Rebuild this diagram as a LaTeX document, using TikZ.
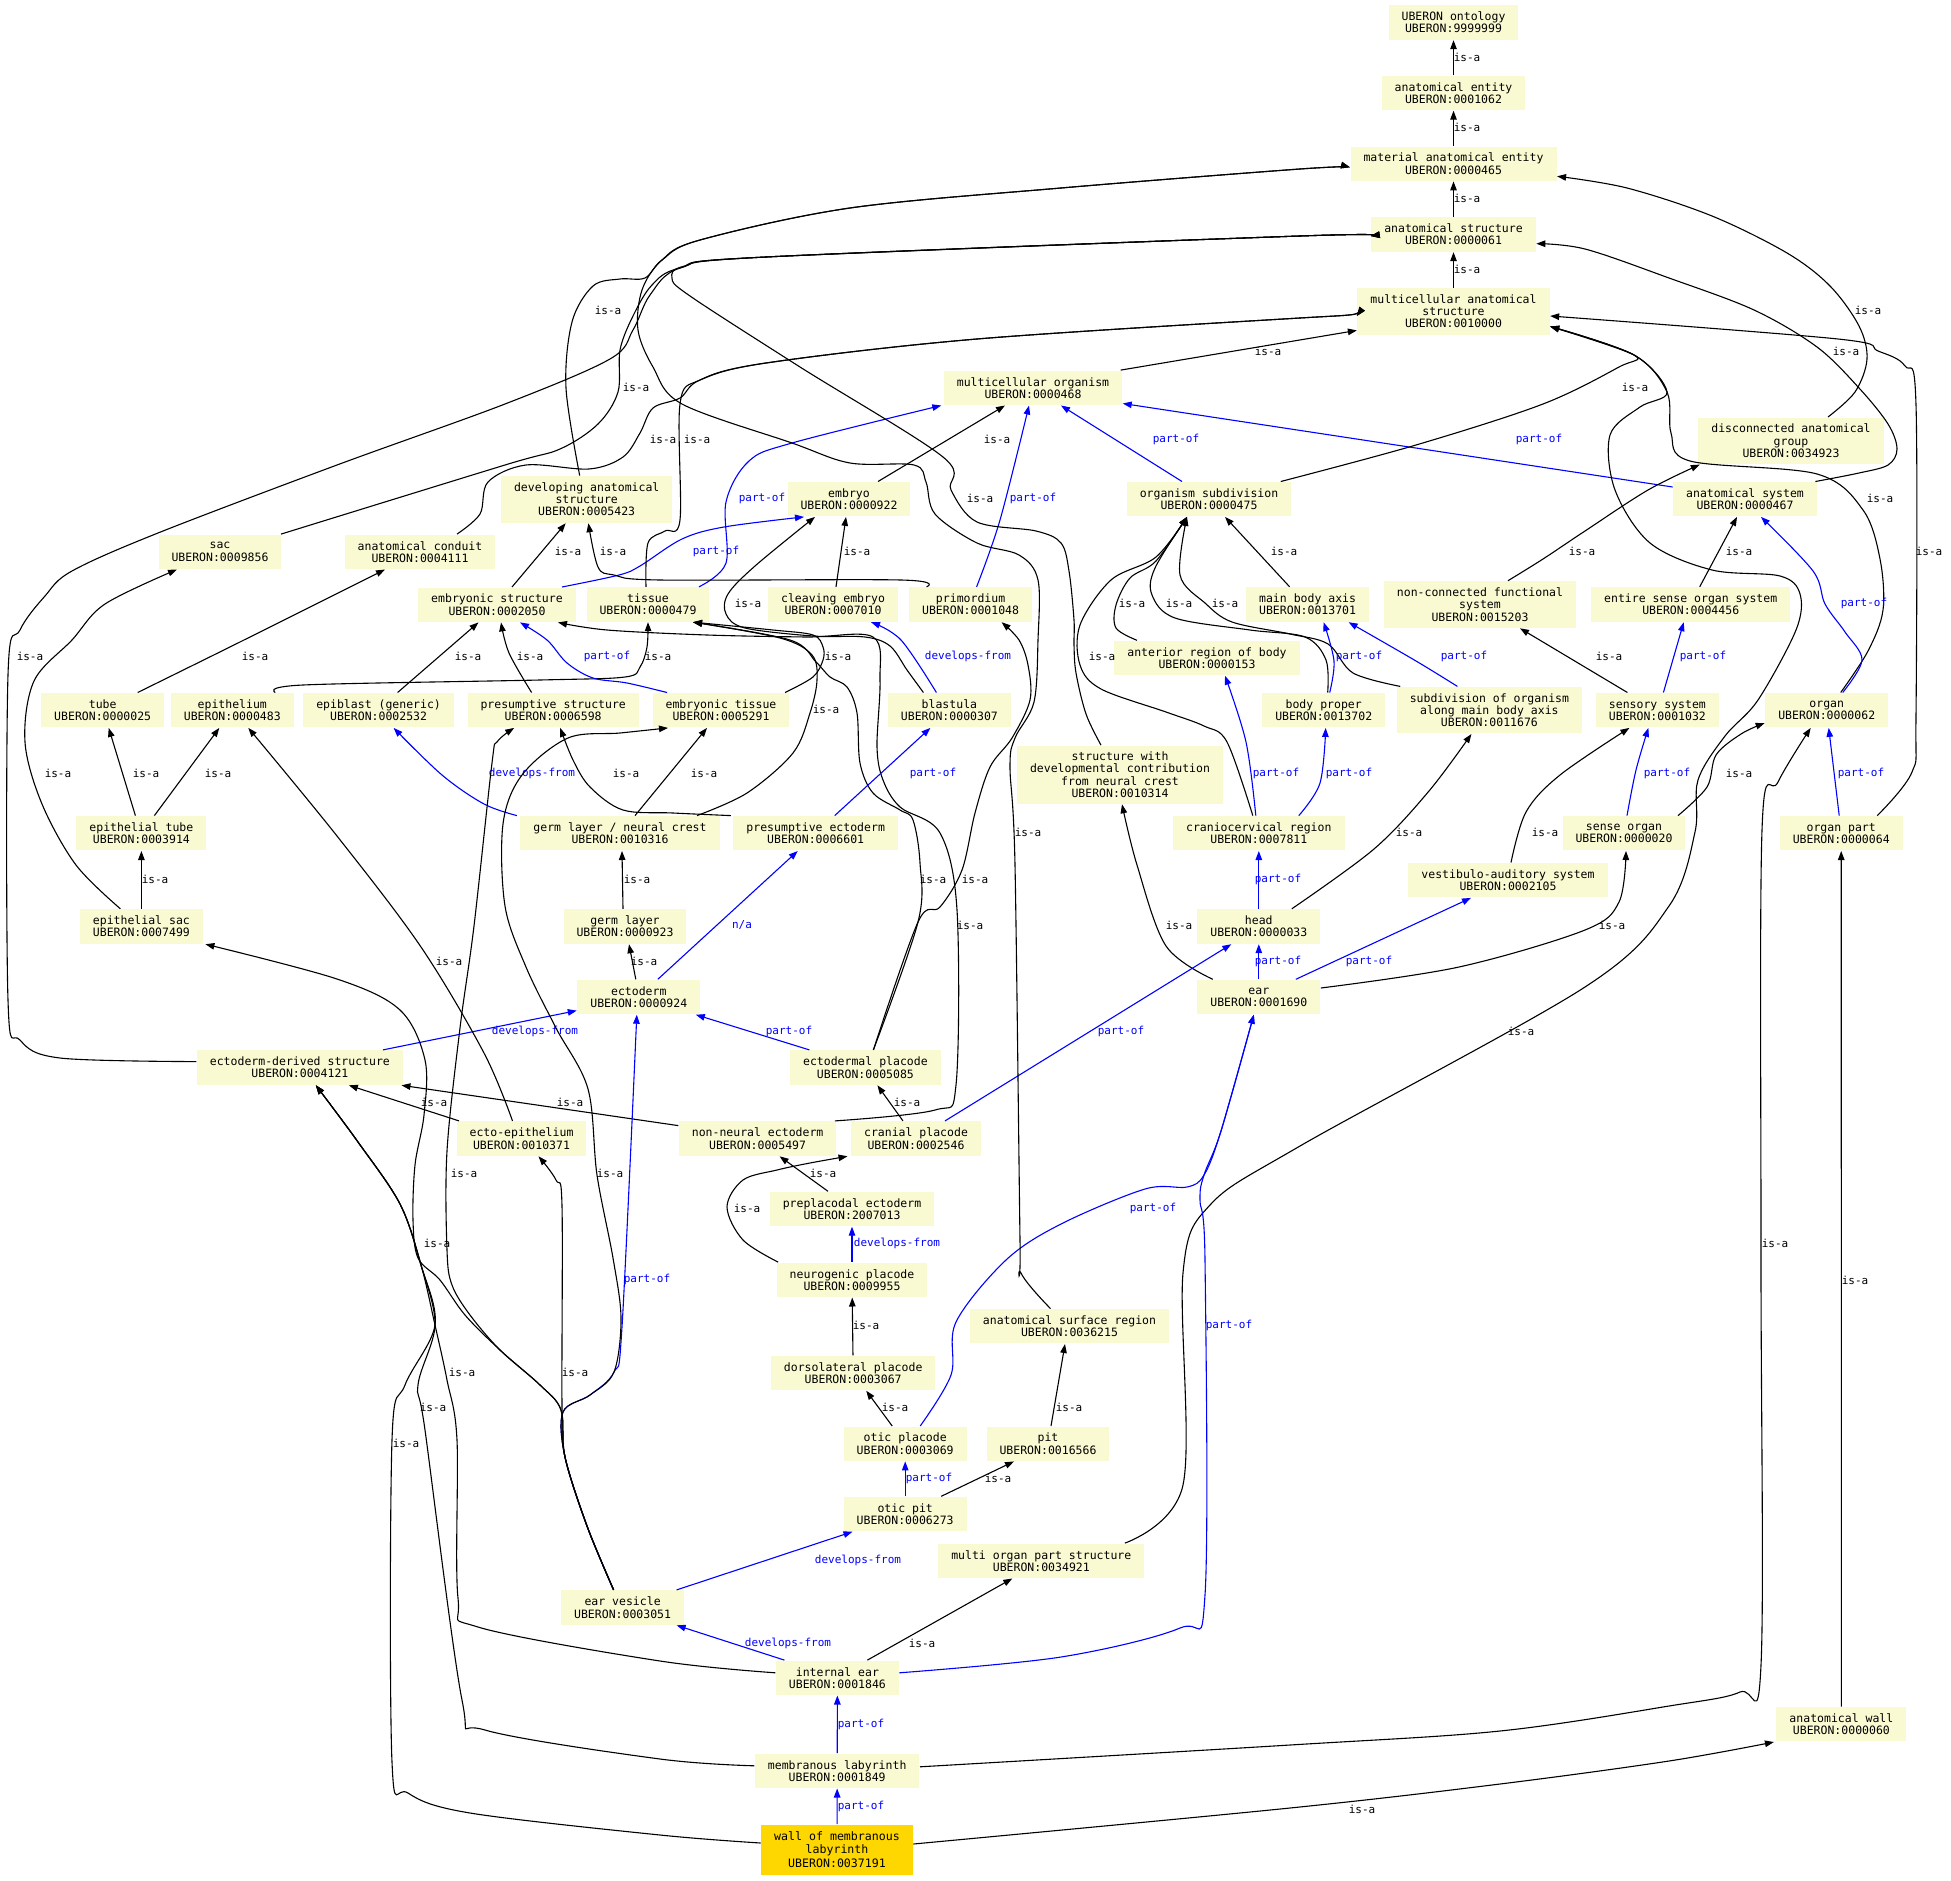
\documentclass[tikz,border=0pt]{standalone}
\usepackage{fontspec}
\setmonofont{DejaVu Sans Mono}
\usepackage{tikz}
\usepackage{xcolor}
\usetikzlibrary{arrows.meta}
\definecolor{TermBackground}{HTML}{FAFAD2}
\definecolor{SeedBackground}{HTML}{FFD700}
\newcommand{\TermFont}{\ttfamily\fontsize{11.5}{12.2}\selectfont}
\newcommand{\SeedFont}{\ttfamily\fontsize{11.6}{13.7}\selectfont}
\newcommand{\EdgeFont}{\ttfamily\fontsize{11}{12}\selectfont}
\tikzstyle{TermNode} =[fill=TermBackground,inner xsep=13pt,inner ysep=4pt,minimum height=34.3pt,align=center,font=\TermFont]
\tikzstyle{TallTermNode} =[TermNode,minimum height=46.5pt]
\tikzstyle{SeedTermNode} =[TermNode,fill=SeedBackground,minimum height=50pt,font=\SeedFont]
\tikzstyle{IsAEdge} =[->,black]
\tikzstyle{RelationEdge} =[->,blue]
\tikzstyle{IsALabel} =[font=\EdgeFont,text=black,inner sep=0pt]
\tikzstyle{RelationLabel} =[font=\EdgeFont,text=blue,inner sep=0pt]
\tikzstyle{Route} =[smooth,tension=0.55]

\begin{document}
\begin{tikzpicture}[x=1pt,y=-1pt,line width=1.1pt,>={Triangle[length=9pt,width=6.5pt]}]
    \fill[white] (0,0) rectangle (1951,1881);
    \useasboundingbox (0,0) rectangle (1951,1881);

    \node[TermNode] (Ont) at (1453.5,22.5) {UBERON ontology\\UBERON:9999999};
    \node[TermNode] (AnatEntity) at (1453.5,93) {anatomical entity\\UBERON:0001062};
    \node[TermNode] (MatAnat) at (1453.5,163.7) {material anatomical entity\\UBERON:0000465};
    \node[TermNode] (AnatStruct) at (1453.5,234.5) {anatomical structure\\UBERON:0000061};
    \node[TallTermNode] (MultiAnat) at (1453.5,311.4) {multicellular anatomical\\structure\\UBERON:0010000};
    \node[TermNode] (MultiOrg) at (1033,387.8) {multicellular organism\\UBERON:0000468};
    \node[TallTermNode] (DisconnGroup) at (1791,440.8) {disconnected anatomical\\group\\UBERON:0034923};
    \node[TermNode] (AnatSystem) at (1745,499.2) {anatomical system\\UBERON:0000467};
    \node[TermNode] (Embryo) at (849,499.2) {embryo\\UBERON:0000922};
    \node[TermNode] (OrgSubdiv) at (1209,499.2) {organism subdivision\\UBERON:0000475};
    \node[TallTermNode] (DevAnat) at (586.7,499.4) {developing anatomical\\structure\\UBERON:0005423};
    \node[TermNode] (Sac) at (220,551.8) {sac\\UBERON:0009856};
    \node[TermNode] (AnatConduit) at (420,551.8) {anatomical conduit\\UBERON:0004111};
    \node[TermNode] (EmbStruct) at (497,604.7) {embryonic structure\\UBERON:0002050};
    \node[TermNode] (Tissue) at (648,604.5) {tissue\\UBERON:0000479};
    \node[TermNode] (CleavingEmbryo) at (833,604.5) {cleaving embryo\\UBERON:0007010};
    \node[TermNode] (Primordium) at (970.6,604.5) {primordium\\UBERON:0001048};
    \node[TermNode] (MainBodyAxis) at (1307.6,604.5) {main body axis\\UBERON:0013701};
    \node[TallTermNode] (NonConnFunc) at (1480,604.5) {non-connected functional\\system\\UBERON:0015203};
    \node[TermNode] (EntireSenseOrg) at (1690.7,604.5) {entire sense organ system\\UBERON:0004456};
    \node[TermNode] (AntRegion) at (1207,658) {anterior region of body\\UBERON:0000153};
    \node[TermNode] (Tube) at (102.7,710.2) {tube\\UBERON:0000025};
    \node[TermNode] (Epithelium) at (232.3,710.2) {epithelium\\UBERON:0000483};
    \node[TermNode] (Epiblast) at (378.6,710.2) {epiblast (generic)\\UBERON:0002532};
    \node[TermNode] (PresStruct) at (553.2,710.2) {presumptive structure\\UBERON:0006598};
    \node[TermNode] (EmbTissue) at (721,710.2) {embryonic tissue\\UBERON:0005291};
    \node[TermNode] (Blastula) at (949.4,710.2) {blastula\\UBERON:0000307};
    \node[TermNode] (BodyProper) at (1323.7,710.2) {body proper\\UBERON:0013702};
    \node[TallTermNode] (SubdivAxis) at (1489.4,710.2) {subdivision of organism\\along main body axis\\UBERON:0011676};
    \node[TermNode] (SensorySystem) at (1657.4,710.2) {sensory system\\UBERON:0001032};
    \node[TermNode] (Organ) at (1826.7,710.2) {organ\\UBERON:0000062};
    \node[TermNode,minimum height=58pt] (NeuralCrestStruct) at (1120,774.7) {structure with\\developmental contribution\\from neural crest\\UBERON:0010314};
    \node[TermNode] (EpiTube) at (141.4,833.3) {epithelial tube\\UBERON:0003914};
    \node[TermNode] (GermLayerNC) at (620,833.3) {germ layer / neural crest\\UBERON:0010316};
    \node[TermNode] (PresEcto) at (815.7,833.3) {presumptive ectoderm\\UBERON:0006601};
    \node[TermNode] (CranioRegion) at (1258.8,833.3) {craniocervical region\\UBERON:0007811};
    \node[TermNode] (SenseOrgan) at (1624,833.3) {sense organ\\UBERON:0000020};
    \node[TermNode] (OrganPart) at (1841.2,833.3) {organ part\\UBERON:0000064};
    \node[TermNode] (VestAud) at (1508,880.2) {vestibulo-auditory system\\UBERON:0002105};
    \node[TermNode] (EpiSac) at (141.4,926.5) {epithelial sac\\UBERON:0007499};
    \node[TermNode] (GermLayer) at (625,926.5) {germ layer\\UBERON:0000923};
    \node[TermNode] (Head) at (1258.8,926.5) {head\\UBERON:0000033};
    \node[TermNode] (Ectoderm) at (638.8,997) {ectoderm\\UBERON:0000924};
    \node[TermNode] (Ear) at (1258.8,997) {ear\\UBERON:0001690};
    \node[TermNode] (EctoDerived) at (299.9,1067.6) {ectoderm-derived structure\\UBERON:0004121};
    \node[TermNode] (EctoPlacode) at (865.4,1067.6) {ectodermal placode\\UBERON:0005085};
    \node[TermNode] (EctoEpi) at (521.5,1138.6) {ecto-epithelium\\UBERON:0010371};
    \node[TermNode] (NonNeural) at (757.6,1138.6) {non-neural ectoderm\\UBERON:0005497};
    \node[TermNode] (CranialPlacode) at (916,1138.6) {cranial placode\\UBERON:0002546};
    \node[TermNode] (Preplacodal) at (852,1209) {preplacodal ectoderm\\UBERON:2007013};
    \node[TermNode] (Neurogenic) at (852,1279.8) {neurogenic placode\\UBERON:0009955};
    \node[TermNode] (SurfaceRegion) at (1069.5,1326.3) {anatomical surface region\\UBERON:0036215};
    \node[TermNode] (Dorsolateral) at (853.2,1373) {dorsolateral placode\\UBERON:0003067};
    \node[TermNode] (OticPlacode) at (905.2,1443.7) {otic placode\\UBERON:0003069};
    \node[TermNode] (Pit) at (1048,1443.7) {pit\\UBERON:0016566};
    \node[TermNode] (OticPit) at (905.2,1514) {otic pit\\UBERON:0006273};
    \node[TermNode] (MultiOrganPart) at (1041.3,1560.8) {multi organ part structure\\UBERON:0034921};
    \node[TermNode] (EarVesicle) at (622.6,1607.6) {ear vesicle\\UBERON:0003051};
    \node[TermNode] (InternalEar) at (837.4,1677.8) {internal ear\\UBERON:0001846};
    \node[TermNode] (MembLab) at (837.2,1770.8) {membranous labyrinth\\UBERON:0001849};
    \node[TermNode] (AnatWall) at (1841.4,1724.3) {anatomical wall\\UBERON:0000060};
    \node[SeedTermNode] (WallMembLab) at (837,1849.6) {wall of membranous\\labyrinth\\UBERON:0037191};

    \draw[IsAEdge] (AnatEntity) -- (Ont) node[IsALabel,at={(1467,57)}] {is-a};
    \draw[IsAEdge] (MatAnat) -- (AnatEntity) node[IsALabel,at={(1467,127)}] {is-a};
    \draw[IsAEdge] (AnatStruct) -- (MatAnat) node[IsALabel,at={(1467,198)}] {is-a};
    \draw[IsAEdge] (MultiAnat) -- (AnatStruct) node[IsALabel,at={(1467,269)}] {is-a};
    \draw[IsAEdge] ([xshift=-2pt]MultiOrg.north east) -- ([yshift=-19pt]MultiAnat.west) node[IsALabel,at={(1268,351)}] {is-a};
    \draw[IsAEdge] plot[Route] coordinates {([xshift=37pt]DisconnGroup.north) (1855,392) (1867,359) (1859,326) (1830,286) (1787,253) (1712,216) (1627,188) ([yshift=-12.6pt]MatAnat.east)} node[IsALabel,at={(1868,310)}] {is-a};
    \draw[IsAEdge] plot[Route] coordinates {([xshift=-2pt]AnatSystem.north east) (1859,473) (1888,465) (1897,449) (1888,424) (1859,388) (1817,347) (1754,310) (1669,278) (1585,249) ([yshift=-9.2pt]AnatStruct.east)} node[IsALabel,at={(1846,351)}] {is-a};
    \draw[RelationEdge] ([yshift=12.2pt]AnatSystem.west) -- ([yshift=2pt]MultiOrg.south east) node[RelationLabel,at={(1539,439)}] {part-of};
    \draw[IsAEdge] plot[Route] coordinates {([xshift=-26pt]OrganPart.north east) (1912,772) (1916,715) (1916,405) (1905,366) (1878,351) (1838,339) ([yshift=-4.6pt]MultiAnat.east)} node[IsALabel,at={(1929,551)}] {is-a};
    \draw[IsAEdge] plot[Route] coordinates {([xshift=14pt]Organ.north) (1868,651) (1883,610) (1880,559) (1863,510) (1817,474) (1690,461) (1671,433) (1667,392) (1634,355) ([yshift=-15.1pt]MultiAnat.east)} node[IsALabel,at={(1880,498)}] {is-a};
    \draw[IsAEdge] plot[Route] coordinates {([xshift=-20pt]MultiOrganPart.north east) (1183,1485) (1183,1273) (1210,1205) (1300,1146) (1585,987) (1669,906) (1695,832) (1698,780) (1725,736) (1758,700) (1796,630) (1800,594) (1780,576) (1712,570) (1650,543) (1615,490) (1610,435) (1640,407) (1667,392) (1634,355) ([yshift=-15.1pt]MultiAnat.east)} node[IsALabel,at={(1521,1031)}] {is-a};
    \draw[IsAEdge] plot[Route] coordinates {([xshift=-11pt]OrgSubdiv.north east) (1416,445) (1543,404) (1619,367) (1634,355) ([yshift=-15.1pt]MultiAnat.east)} node[IsALabel,at={(1635,387)}] {is-a};
    \draw[IsAEdge] plot[Route] coordinates {([xshift=28pt]NonConnFunc.north) (1543,559) (1585,531) (1648,490) ([xshift=2pt]DisconnGroup.south west)} node[IsALabel,at={(1582,551)}] {is-a};
    \draw[IsAEdge] ([xshift=9pt]EntireSenseOrg.north) -- ([xshift=-8pt]AnatSystem.south) node[IsALabel,at={(1739,551)}] {is-a};
    \draw[RelationEdge] plot[Route] coordinates {([xshift=16pt]Organ.north) (1862,660) (1845,632) (1825,604) (1813,571) ([xshift=16pt]AnatSystem.south)} node[RelationLabel,at={(1864,603)}] {part-of};
    \draw[IsAEdge] ([xshift=-30pt]SensorySystem.north) -- ([xshift=40pt]NonConnFunc.south) node[IsALabel,at={(1609,656)}] {is-a};
    \draw[RelationEdge] ([xshift=6pt]SensorySystem.north) -- ([xshift=-7pt]EntireSenseOrg.south) node[RelationLabel,at={(1703,656)}] {part-of};
    \draw[RelationEdge] plot[Route] coordinates {([xshift=3pt]SenseOrgan.north) (1636,770) ([xshift=-9pt]SensorySystem.south)} node[RelationLabel,at={(1667,773)}] {part-of};
    \draw[IsAEdge] plot[Route] coordinates {([xshift=-8pt]SenseOrgan.north east) (1707,787) (1716,755) (1741,734) ([yshift=-12.8pt]Organ.west)} node[IsALabel,at={(1739,773)}] {is-a};
    \draw[RelationEdge] ([xshift=-2pt]OrganPart.north) -- ([xshift=2pt]Organ.south) node[RelationLabel,at={(1861,773)}] {part-of};
    \draw[IsAEdge] plot[Route] coordinates {([xshift=3pt]VestAud.north) (1526,812) (1560,775) ([xshift=-28pt]SensorySystem.south)} node[IsALabel,at={(1545,832)}] {is-a};
    \draw[RelationEdge] ([xshift=37pt]Ear.north) -- ([xshift=-37pt]VestAud.south) node[RelationLabel,at={(1369,961)}] {part-of};
    \draw[IsAEdge] plot[Route] coordinates {([yshift=9pt]Ear.east) (1459,967) (1585,930) (1619,902) ([xshift=2pt]SenseOrgan.south)} node[IsALabel,at={(1612,925)}] {is-a};
    \draw[RelationEdge] (Ear) -- (Head) node[RelationLabel,at={(1278,961)}] {part-of};
    \draw[RelationEdge] (Head) -- (CranioRegion) node[RelationLabel,at={(1278,879)}] {part-of};
    \draw[IsAEdge] plot[Route] coordinates {([xshift=33pt]Head.north) (1374,849) (1429,791) ([xshift=-18pt]SubdivAxis.south)} node[IsALabel,at={(1409,832)}] {is-a};
    \draw[IsAEdge] plot[Route] coordinates {([xshift=-46pt]Ear.north) (1166,946) (1137,865) ([xshift=2pt]NeuralCrestStruct.south)} node[IsALabel,at={(1179,925)}] {is-a};
    \draw[RelationEdge] plot[Route] coordinates {([xshift=-3pt]CranioRegion.north) (1246,742) ([xshift=18pt]AntRegion.south)} node[RelationLabel,at={(1276,773)}] {part-of};
    \draw[RelationEdge] plot[Route] coordinates {([xshift=40pt]CranioRegion.north) (1320,783) ([xshift=2pt]BodyProper.south)} node[RelationLabel,at={(1349,773)}] {part-of};
    \draw[IsAEdge] plot[Route] coordinates {([xshift=-6pt]CranioRegion.north) (1227,742) (1204,726) (1166,712) (1101,689) (1080,665) (1080,625) (1111,580) (1156,557) ([xshift=-22pt]OrgSubdiv.south)} node[IsALabel,at={(1102,656)}] {is-a};
    \draw[IsAEdge] plot[Route] coordinates {([xshift=-70pt]AntRegion.north) (1116,628) (1116,605) (1130,578) (1156,561) ([xshift=-22pt]OrgSubdiv.south)} node[IsALabel,at={(1132,603)}] {is-a};
    \draw[IsAEdge] plot[Route] coordinates {([xshift=4pt]BodyProper.north) (1326,660) (1305,637) (1250,630) (1175,618) (1152,595) (1155,568) ([xshift=-22pt]OrgSubdiv.south)} node[IsALabel,at={(1179,603)}] {is-a};
    \draw[IsAEdge] plot[Route] coordinates {([xshift=4pt]SubdivAxis.north west) (1353,673) (1328,644) (1290,634) (1232,622) (1205,603) (1180,575) ([xshift=-22pt]OrgSubdiv.south)} node[IsALabel,at={(1225,603)}] {is-a};
    \draw[IsAEdge] ([xshift=-18pt]MainBodyAxis.north) -- ([xshift=16pt]OrgSubdiv.south) node[IsALabel,at={(1284,551)}] {is-a};
    \draw[RelationEdge] plot[Route] coordinates {([xshift=6pt]BodyProper.north) (1334,661) ([xshift=16pt]MainBodyAxis.south)} node[RelationLabel,at={(1359,656)}] {part-of};
    \draw[RelationEdge] plot[Route] coordinates {([xshift=-32pt]SubdivAxis.north) (1416,661) ([xshift=41pt]MainBodyAxis.south)} node[RelationLabel,at={(1464,656)}] {part-of};
    \draw[RelationEdge] ([xshift=-27pt]OrgSubdiv.north) -- ([xshift=28pt]MultiOrg.south) node[RelationLabel,at={(1176,439)}] {part-of};
    \draw[IsAEdge] ([xshift=29pt]Embryo.north) -- ([xshift=-28pt]MultiOrg.south) node[IsALabel,at={(997,439)}] {is-a};
    \draw[RelationEdge] plot[Route] coordinates {([xshift=6pt]Primordium.north) (1000,520) ([xshift=-4pt]MultiOrg.south)} node[RelationLabel,at={(1033,498)}] {part-of};
    \draw[RelationEdge] plot[Route] coordinates {([xshift=51pt]Tissue.north) (726,563) (726,502) (749,461) (792,443) ([xshift=-2pt]MultiOrg.south west)} node[RelationLabel,at={(762,498)}] {part-of};
    \draw[RelationEdge] plot[Route] coordinates {([xshift=65pt]EmbStruct.north) (619,575) (640,566) (682,539) (724,527) ([xshift=-45pt]Embryo.south)} node[RelationLabel,at={(716,551)}] {part-of};
    \draw[IsAEdge] ([xshift=3pt]CleavingEmbryo.north) -- ([xshift=-3pt]Embryo.south) node[IsALabel,at={(857,551)}] {is-a};
    \draw[RelationEdge] plot[Route] coordinates {([xshift=-13pt]Blastula.north) (901,640) ([xshift=38pt]CleavingEmbryo.south)} node[RelationLabel,at={(968,656)}] {develops-from};
    \draw[IsAEdge] plot[Route] coordinates {([xshift=-26pt]Blastula.north) (907,670) (890,646) (865,637) (813,636) (745,628) (726,614) (728,594) (755,566) ([xshift=-34pt]Embryo.south)} node[IsALabel,at={(748,603)}] {is-a};
    \draw[IsAEdge] plot[Route] coordinates {([xshift=64pt]EmbTissue.north) (813,677) (823,660) (823,647) (813,635) (773,630) ([xshift=45pt]Tissue.south)} node[IsALabel,at={(838,656)}] {is-a};
    \draw[IsAEdge] plot[Route] coordinates {([xshift=77pt]GermLayerNC.north) (747,793) (793,753) (810,713) (817,680) (812,655) (780,638) ([xshift=45pt]Tissue.south)} node[IsALabel,at={(826,709)}] {is-a};
    \draw[IsAEdge] plot[Route] coordinates {([xshift=8pt]EctoPlacode.north) (918,922) (920,863) (913,820) (900,810) (873,793) (860,763) (857,713) (847,687) (830,677) (816,662) (790,640) ([xshift=45pt]Tissue.south)} node[IsALabel,at={(933,879)}] {is-a};
    \draw[IsAEdge] plot[Route] coordinates {([xshift=8pt]EctoPlacode.north) (918,922) (940,907) (962,870) (975,813) (990,767) (1012,738) (1030,700) (1028,665) (1019,640) ([xshift=31pt]Primordium.south)} node[IsALabel,at={(975,879)}] {is-a};
    \draw[IsAEdge] plot[Route] coordinates {([xshift=-2pt]NonNeural.north east) (935,1110) (956,1085) (957,910) (940,833) (900,807) (883,780) (877,747) (880,680) (873,637) (807,637) (707,635) (607,630) ([xshift=61pt]EmbStruct.south)} node[IsALabel,at={(970,925)}] {is-a};
    \draw[RelationEdge] ([xshift=-56pt]EctoPlacode.north) -- ([xshift=-5pt]Ectoderm.south east) node[RelationLabel,at={(789,1031)}] {part-of};
    \draw[IsAEdge] ([xshift=-13pt]CranialPlacode.north) -- ([xshift=12pt]EctoPlacode.south) node[IsALabel,at={(907,1102)}] {is-a};
    \draw[RelationEdge] ([xshift=29pt]CranialPlacode.north) -- ([xshift=-27.5pt]Head.south) node[RelationLabel,at={(1121,1031)}] {part-of};
    \draw[IsAEdge] ([xshift=-24pt]Preplacodal.north) -- ([xshift=22pt]NonNeural.south) node[IsALabel,at={(823,1173)}] {is-a};
    \draw[IsAEdge] plot[Route] coordinates {([xshift=2pt]Neurogenic.north west) (743,1240) (727,1207) (743,1180) (777,1170) (810,1163) ([xshift=-3pt]CranialPlacode.south west)} node[IsALabel,at={(747,1208)}] {is-a};
    \draw[RelationEdge] (Neurogenic) -- (Preplacodal) node[RelationLabel,at={(897,1243)}] {develops-from};
    \draw[IsAEdge] (Dorsolateral) -- (Neurogenic) node[IsALabel,at={(866,1325)}] {is-a};
    \draw[IsAEdge] ([xshift=-13pt]OticPlacode.north) -- ([xshift=13pt]Dorsolateral.south) node[IsALabel,at={(895,1407)}] {is-a};
    \draw[RelationEdge] plot[Route] coordinates {([xshift=15pt]OticPlacode.north) (951,1375) (956,1322) (1006,1260) (1061,1224) (1145,1189) (1187,1187) (1204,1175) (1221,1131) ([xshift=-5pt]Ear.south)} node[RelationLabel,at={(1153,1208)}] {part-of};
    \draw[RelationEdge] plot[Route] coordinates {([yshift=5pt]InternalEar.east) (1061,1657) (1180,1628) (1205,1595) (1205,1260) (1200,1200) (1204,1175) (1221,1131) ([xshift=-5pt]Ear.south)} node[RelationLabel,at={(1229,1325)}] {part-of};
    \draw[RelationEdge] (OticPit) -- (OticPlacode) node[RelationLabel,at={(929,1478)}] {part-of};
    \draw[IsAEdge] ([xshift=36pt]OticPit.north) -- ([xshift=-34pt]Pit.south) node[IsALabel,at={(998,1478)}] {is-a};
    \draw[IsAEdge] ([xshift=3pt]Pit.north) -- ([xshift=-4.5pt]SurfaceRegion.south) node[IsALabel,at={(1069,1407)}] {is-a};
    \draw[IsAEdge] plot[Route] coordinates {([xshift=-19pt]SurfaceRegion.north) (1021,1273) (1020,1240) (1015,865) (1010,767) (1015,738) (1034,702) (1038,640) (1038,580) (1019,555) (977,543) (935,514) (926,482) (914,465) (850,463) (792,443) (682,404) (653,367) (638,330) (642,290) (662,260) (700,240) (850,208) (1061,188) (1300,169) ([yshift=-3.6pt]MatAnat.west)} node[IsALabel,at={(1028,832)}] {is-a};
    \draw[IsAEdge] plot[Route] coordinates {([xshift=-19pt]NeuralCrestStruct.north) (1086,714) (1076,673) (1074,645) (1074,620) (1069,571) (1061,543) (1036,531) (977,522) (951,490) (943,457) (800,367) (690,296) (672,278) (685,266) (766,257) (1300,236) ([yshift=-1.5pt]AnatStruct.west)} node[IsALabel,at={(980,498)}] {is-a};
    \draw[IsAEdge] plot[Route] coordinates {([xshift=-7pt]DevAnat.north) (566,388) (572,322) (593,286) (620,279) (645,278) (662,260) (700,240) (850,208) (1061,188) (1300,169) ([yshift=-3.6pt]MatAnat.west)} node[IsALabel,at={(608,310)}] {is-a};
    \draw[IsAEdge] plot[Route] coordinates {([yshift=6pt]EctoDerived.west) (60,1058) (20,1040) (8,1000) (8,675) (20,630) (45,596) (72,571) (158,533) (337,465) (505,404) (610,359) (633,330) (650,295) (680,268) (766,257) (1300,236) ([yshift=-1.5pt]AnatStruct.west)} node[IsALabel,at={(30,656)}] {is-a};
    \draw[IsAEdge] plot[Route] coordinates {([xshift=-1pt]Sac.north east) (505,465) (560,449) (598,424) (618,392) (620,350) (633,316) (652,285) (680,268) (766,257) (1300,236) ([yshift=-1.5pt]AnatStruct.west)} node[IsALabel,at={(636,387)}] {is-a};
    \draw[IsAEdge] plot[Route] coordinates {([xshift=37pt]AnatConduit.north) (480,514) (488,482) (526,465) (589,469) (623,457) (640,433) (653,408) (680,398) (700,380) (766,363) (977,339) (1300,318) ([yshift=-4.6pt]MultiAnat.west)} node[IsALabel,at={(663,439)}] {is-a};
    \draw[IsAEdge] plot[Route] coordinates {([xshift=-2pt]Tissue.north) (648,543) (665,531) (680,520) (680,404) (700,380) (766,363) (977,339) (1300,318) ([yshift=-4.6pt]MultiAnat.west)} node[IsALabel,at={(697,439)}] {is-a};
    \draw[IsAEdge] plot[Route] coordinates {([xshift=-44pt]Primordium.north) (901,580) (660,580) (614,575) (598,567) ([xshift=1.7pt]DevAnat.south)} node[IsALabel,at={(613,551)}] {is-a};
    \draw[IsAEdge] ([xshift=15pt]EmbStruct.north) -- ([xshift=-21pt]DevAnat.south) node[IsALabel,at={(568,551)}] {is-a};
    \draw[IsAEdge] plot[Route] coordinates {([xshift=35pt]Tube.north) (244,640) ([xshift=-35pt]AnatConduit.south)} node[IsALabel,at={(255,656)}] {is-a};
    \draw[IsAEdge] plot[Route] coordinates {([xshift=-21pt]EpiSac.north) (76,865) (42,804) (25,742) (34,681) (72,640) (105,604) ([xshift=-43pt]Sac.south)} node[IsALabel,at={(58,773)}] {is-a};
    \draw[IsAEdge] ([xshift=-6pt]EpiTube.north) -- ([xshift=6pt]Tube.south) node[IsALabel,at={(146,773)}] {is-a};
    \draw[IsAEdge] ([xshift=13pt]EpiTube.north) -- ([xshift=-13pt]Epithelium.south) node[IsALabel,at={(218,773)}] {is-a};
    \draw[IsAEdge] (EpiSac) -- (EpiTube) node[IsALabel,at={(155,879)}] {is-a};
    \draw[IsAEdge] plot[Route] coordinates {([xshift=43pt]Epithelium.north) (303,685) (540,680) (625,677) (640,667) (647,647) (Tissue.south)} node[IsALabel,at={(658,656)}] {is-a};
    \draw[IsAEdge] ([xshift=19pt]Epiblast.north) -- ([xshift=-18.5pt]EmbStruct.south) node[IsALabel,at={(468,656)}] {is-a};
    \draw[IsAEdge] plot[Route] coordinates {([xshift=-21.6pt]PresStruct.north) (509,653) ([xshift=4pt]EmbStruct.south)} node[IsALabel,at={(530,656)}] {is-a};
    \draw[RelationEdge] plot[Route] coordinates {([xshift=-54pt]EmbTissue.north) (627,683) (593,678) (567,663) (547,640) ([xshift=23pt]EmbStruct.south)} node[RelationLabel,at={(607,656)}] {part-of};
    \draw[RelationEdge] plot[Route] coordinates {([xshift=-3pt]GermLayerNC.north west) (484,804) (442,775) ([xshift=15pt]Epiblast.south)} node[RelationLabel,at={(532,773)}] {develops-from};
    \draw[IsAEdge] ([xshift=15pt]GermLayerNC.north) -- ([xshift=-14pt]EmbTissue.south) node[IsALabel,at={(704,773)}] {is-a};
    \draw[IsAEdge] plot[Route] coordinates {([xshift=-2pt]PresEcto.north west) (673,813) (623,810) (590,787) (573,760) ([xshift=7pt]PresStruct.south)} node[IsALabel,at={(626,773)}] {is-a};
    \draw[RelationEdge] ([xshift=19pt]PresEcto.north) -- ([xshift=-19pt]Blastula.south) node[RelationLabel,at={(933,773)}] {part-of};
    \draw[IsAEdge] ([xshift=-2pt]GermLayer.north) -- ([xshift=2pt]GermLayerNC.south) node[IsALabel,at={(637,879)}] {is-a};
    \draw[IsAEdge] ([xshift=-3pt]Ectoderm.north) -- ([xshift=4pt]GermLayer.south) node[IsALabel,at={(644,961)}] {is-a};
    \draw[RelationEdge] ([xshift=19pt]Ectoderm.north) -- ([xshift=-18pt]PresEcto.south) node[RelationLabel,at={(742,925)}] {n/a};
    \draw[RelationEdge] ([xshift=83pt]EctoDerived.north) -- ([yshift=-13.6pt]Ectoderm.west) node[RelationLabel,at={(535,1031)}] {develops-from};
    \draw[IsAEdge] ([xshift=3pt]EctoEpi.north west) -- ([xshift=49pt]EctoDerived.south) node[IsALabel,at={(434,1102)}] {is-a};
    \draw[IsAEdge] plot[Route] coordinates {([xshift=-9pt]EctoEpi.north) (484,1053) (421,947) (337,836) ([xshift=16pt]Epithelium.south)} node[IsALabel,at={(449,961)}] {is-a};
    \draw[IsAEdge] ([yshift=13pt]NonNeural.west) -- ([xshift=-2pt]EctoDerived.south east) node[IsALabel,at={(570,1102)}] {is-a};
    \draw[IsAEdge] plot[Route] coordinates {([xshift=-9pt]EarVesicle.north) (587,1526) (565,1457) (562,1405) (562,1206) (556,1180) ([xshift=17pt]EctoEpi.south)} node[IsALabel,at={(575,1372)}] {is-a};
    \draw[RelationEdge] plot[Route] coordinates {([xshift=-9pt]EarVesicle.north) (587,1526) (565,1457) (563,1412) (590,1395) (614,1372) (622,1327) ([xshift=-2pt]Ectoderm.south)} node[RelationLabel,at={(647,1279)}] {part-of};
    \draw[IsAEdge] plot[Route] coordinates {([xshift=-9pt]EarVesicle.north) (587,1526) (565,1457) (563,1412) (590,1395) (614,1372) (621,1318) (613,1258) (597,1175) (588,1089) (556,1028) (526,967) (505,906) (503,824) (522,775) (568,738) (620,733) ([xshift=-53pt]EmbTissue.south)} node[IsALabel,at={(610,1173)}] {is-a};
    \draw[IsAEdge] plot[Route] coordinates {([xshift=-9pt]EarVesicle.north) (587,1526) (565,1457) (561,1410) (540,1385) (500,1350) (470,1315) (452,1285) (447,1250) (447,1151) (460,1028) (474,926) (492,763) (497,742) ([xshift=-39pt]PresStruct.south)} node[IsALabel,at={(464,1173)}] {is-a};
    \draw[IsAEdge] plot[Route] coordinates {([xshift=-9pt]EarVesicle.north) (587,1526) (565,1457) (561,1410) (540,1385) (500,1350) (465,1315) (440,1280) (418,1258) (413,1220) (415,1165) (424,1115) (425,1060) (400,1010) (337,979) ([xshift=2pt]EpiSac.south east)} node[IsALabel,at={(437,1243)}] {is-a};
    \draw[IsAEdge] plot[Route] coordinates {([yshift=5pt]InternalEar.west) (660,1661) (478,1627) (458,1598) (457,1440) (447,1380) (435,1325) (421,1265) (400,1204) (358,1142) ([xshift=16pt]EctoDerived.south)} node[IsALabel,at={(462,1372)}] {is-a};
    \draw[IsAEdge] plot[Route] coordinates {([yshift=5pt]MembLab.west) (660,1759) (485,1730) (462,1700) (425,1430) (418,1385) (435,1325) (421,1265) (400,1204) (358,1142) ([xshift=16pt]EctoDerived.south)} node[IsALabel,at={(433,1407)}] {is-a};
    \draw[IsAEdge] plot[Route] coordinates {([yshift=6.6pt]WallMembLab.west) (660,1835) (470,1813) (408,1793) (392,1762) (392,1440) (405,1385) (435,1325) (421,1265) (400,1204) (358,1142) ([xshift=16pt]EctoDerived.south)} node[IsALabel,at={(406,1443)}] {is-a};
    \draw[IsAEdge] ([xshift=30pt]InternalEar.north) -- ([xshift=-29pt]MultiOrganPart.south) node[IsALabel,at={(922,1643)}] {is-a};
    \draw[RelationEdge] ([xshift=-53pt]InternalEar.north) -- ([xshift=-8pt]EarVesicle.south east) node[RelationLabel,at={(788,1643)}] {develops-from};
    \draw[RelationEdge] ([xshift=-8pt]EarVesicle.north east) -- ([xshift=-52.7pt]OticPit.south) node[RelationLabel,at={(858,1560)}] {develops-from};
    \draw[RelationEdge] (MembLab) -- (InternalEar) node[RelationLabel,at={(861,1724)}] {part-of};
    \draw[RelationEdge] (WallMembLab) -- (MembLab) node[RelationLabel,at={(861,1806)}] {part-of};
    \draw[IsAEdge] plot[Route] coordinates {([yshift=4pt]MembLab.east) (1290,1745) (1500,1731) (1669,1706) (1740,1692) (1761,1665) (1761,1260) (1762,830) (1778,782) ([xshift=-16pt]Organ.south)} node[IsALabel,at={(1775,1243)}] {is-a};
    \draw[IsAEdge] plot[Route] coordinates {([yshift=5.6pt]WallMembLab.east) (1290,1808) (1500,1784) (1669,1761) ([xshift=-2pt]AnatWall.south west)} node[IsALabel,at={(1362,1809)}] {is-a};
    \draw[IsAEdge] (AnatWall) -- (OrganPart) node[IsALabel,at={(1855,1280)}] {is-a};
\end{tikzpicture}
\end{document}
